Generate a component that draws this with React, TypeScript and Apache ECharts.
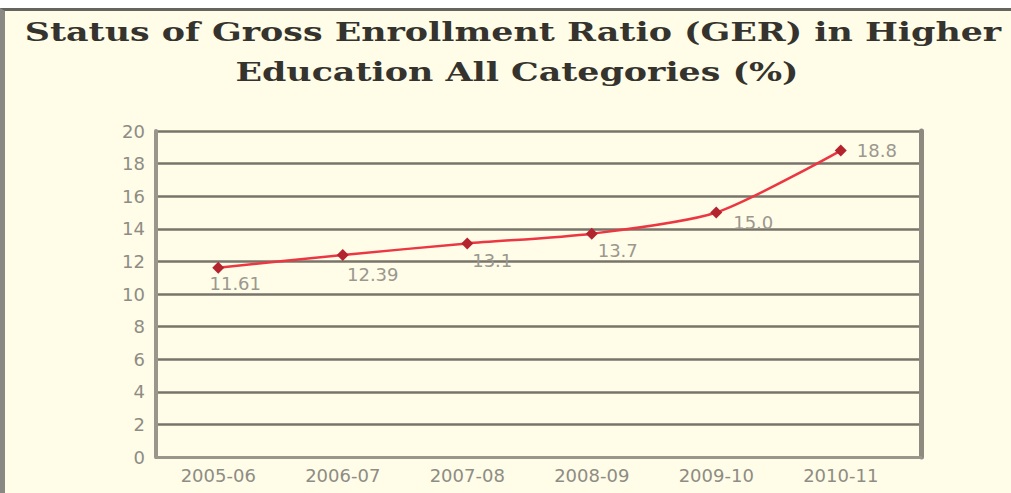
import React, { useEffect, useRef } from "react";
import * as echarts from "echarts";

const categories = ["2005-06", "2006-07", "2007-08", "2008-09", "2009-10", "2010-11"];
const gerValues = [11.61, 12.39, 13.1, 13.7, 15.0, 18.8];
const valueLabels = ["11.61", "12.39", "13.1", "13.7", "15.0", "18.8"];
const titleLines = [
  "Status of Gross Enrollment Ratio (GER) in Higher",
  "Education All Categories (%)",
];

export default function App() {
  const ref = useRef<HTMLDivElement>(null);
  useEffect(() => {
    document.body.style.margin = "0";
    const chart = echarts.init(ref.current!, null, { renderer: "svg" });
    const gridColor = "#78746a";
    const labelPos = ["bottom", "bottom", "bottom", "bottom", "bottom", "right"];
    const labelOff = [
      [17, -1],
      [30, 2],
      [25, 0],
      [26, 0],
      [37, -7],
      [8, 0],
    ];
    const titleStyle = {
      font: "bold 26px 'DejaVu Serif'",
      fill: "#35332e",
      align: "center",
      verticalAlign: "middle",
      textAlign: "center",
      textVerticalAlign: "middle",
    };
    chart.setOption({
      animation: false,
      backgroundColor: "transparent",
      graphic: [
        {
          type: "text",
          x: 513,
          y: 32,
          scaleX: 1.34,
          style: { ...titleStyle, text: titleLines[0] },
        },
        {
          type: "text",
          x: 517,
          y: 72,
          scaleX: 1.34,
          style: { ...titleStyle, text: titleLines[1] },
        },
      ],
      grid: [
        { left: 156, right: 90, top: 131, bottom: 36, show: false },
        { left: 156, right: 108, top: 131, bottom: 36, show: false },
      ],
      xAxis: [
        {
          gridIndex: 0,
          type: "category",
          data: categories,
          axisLine: { show: true, lineStyle: { color: "#9a968c", width: 3 } },
          axisTick: { show: false },
          axisLabel: { show: false },
          splitLine: { show: false },
        },
        {
          gridIndex: 1,
          type: "category",
          data: categories,
          axisLine: { show: false },
          axisTick: { show: false },
          axisLabel: {
            color: "#8e8c84",
            fontSize: 18,
            fontFamily: "'DejaVu Sans'",
            margin: 9,
          },
          splitLine: { show: false },
        },
      ],
      yAxis: [
        {
          gridIndex: 0,
          type: "value",
          min: 0,
          max: 20,
          interval: 2,
          axisLine: { show: true, lineStyle: { color: "#9a968c", width: 4 } },
          axisTick: { show: false },
          axisLabel: {
            color: "#8e8c84",
            fontSize: 18,
            fontFamily: "'DejaVu Sans'",
            margin: 11,
          },
          splitLine: { show: true, lineStyle: { color: gridColor, width: 2.5 } },
        },
        {
          gridIndex: 0,
          type: "value",
          position: "right",
          min: 0,
          max: 20,
          interval: 2,
          axisLine: { show: true, lineStyle: { color: "#8e8a80", width: 5 } },
          axisTick: { show: false },
          axisLabel: { show: false },
          splitLine: { show: false },
        },
        {
          gridIndex: 1,
          type: "value",
          min: 0,
          max: 20,
          interval: 2,
          show: false,
        },
      ],
      series: [
        {
          type: "line",
          xAxisIndex: 1,
          yAxisIndex: 2,
          data: gerValues.map((v, i) => ({
            value: v,
            label: {
              position: labelPos[i],
              formatter: valueLabels[i],
              offset: labelOff[i],
            },
          })),
          smooth: 0.25,
          symbol: "diamond",
          symbolSize: 12,
          lineStyle: { color: "#ec3642", width: 2.5 },
          itemStyle: { color: "#b3242e" },
          label: {
            show: true,
            color: "#9a988f",
            fontSize: 18,
            fontFamily: "'DejaVu Sans'",
            distance: 2,
          },
          z: 5,
        },
      ],
    });
    return () => chart.dispose();
  }, []);
  return (
    <div style={{ position: "relative", width: 1011, height: 493, background: "#ffffff", overflow: "hidden" }}>
      <div
        style={{
          position: "absolute",
          left: 0,
          top: 8,
          width: 1011,
          height: 485,
          boxSizing: "border-box",
          background: "#fffce8",
          borderTop: "3px solid #66645e",
          borderLeft: "5px solid #8a8882",
        }}
      />
      <div ref={ref} style={{ position: "absolute", left: 0, top: 0, width: 1011, height: 493 }} />
    </div>
  );
}
